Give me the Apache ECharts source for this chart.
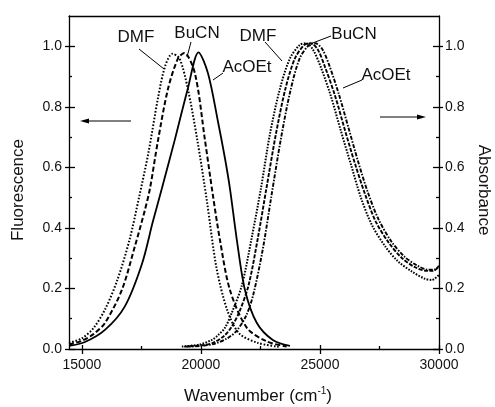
<!DOCTYPE html>
<html><head><meta charset="utf-8">
<script src="https://cdn.jsdelivr.net/npm/echarts@6/dist/echarts.min.js"></script>
<style>html,body{margin:0;padding:0;background:#fff}#c{width:495px;height:407px}</style>
</head><body><div id="c"></div>
<script>
// ---- tick values ----
const xMajorTicks = [15000, 20000, 25000, 30000];
const xMinorTicks = [17500, 22500, 27500];
const yMajorTicks = [0, 0.2, 0.4, 0.6, 0.8, 1.0];
const yMinorTicks = [0.1, 0.3, 0.5, 0.7, 0.9];

// ---- fluorescence (left axis) ----
const fDmfX = [14460, 15000, 15500, 16000, 16500, 17000, 17400, 17800, 18200, 18500, 18800, 19100, 19450, 19850, 20250, 20650, 21100, 21600, 22400, 23300];
const fDmfY = [0.02, 0.035, 0.07, 0.135, 0.23, 0.36, 0.5, 0.65, 0.83, 0.935, 0.975, 0.96, 0.86, 0.69, 0.49, 0.27, 0.13, 0.052, 0.02, 0.007];
const fBuX = [14460, 15000, 15500, 15970, 16680, 17230, 17650, 17860, 18200, 18620, 19040, 19300, 19750, 20170, 20500, 20800, 21220, 21930, 22770, 23600];
const fBuY = [0.015, 0.027, 0.05, 0.086, 0.195, 0.34, 0.46, 0.53, 0.69, 0.86, 0.96, 0.978, 0.91, 0.69, 0.51, 0.36, 0.195, 0.07, 0.025, 0.008];
const fAcX = [14460, 15130, 15970, 16800, 17520, 17980, 18360, 18900, 19450, 19900, 20300, 20720, 21010, 21220, 21510, 21850, 22350, 23020, 23740];
const fAcY = [0.01, 0.023, 0.063, 0.14, 0.28, 0.42, 0.53, 0.69, 0.86, 0.98, 0.91, 0.75, 0.63, 0.53, 0.36, 0.195, 0.086, 0.03, 0.01];

// ---- absorbance (right axis) ----
const aDmfX = [19200, 19950, 20460, 20710, 21010, 21300, 21720, 22140, 22520, 22900, 23320, 23740, 24160, 24410, 24700, 25040, 25460, 25880, 26300, 26720, 27180, 27730, 28270, 28860, 29410, 29700, 30000];
const aDmfY = [0.008, 0.015, 0.03, 0.045, 0.07, 0.12, 0.21, 0.37, 0.53, 0.71, 0.86, 0.96, 1.005, 1.01, 0.99, 0.93, 0.835, 0.72, 0.61, 0.5, 0.41, 0.34, 0.29, 0.256, 0.232, 0.228, 0.245];
const aBuX = [19300, 20000, 20500, 21000, 21300, 21600, 22000, 22400, 22750, 23150, 23550, 23950, 24350, 24600, 24900, 25220, 25640, 26060, 26480, 26900, 27350, 27900, 28450, 29000, 29500, 29750, 30000];
const aBuY = [0.008, 0.012, 0.02, 0.045, 0.075, 0.12, 0.21, 0.37, 0.53, 0.71, 0.86, 0.96, 1.005, 1.01, 0.99, 0.93, 0.835, 0.72, 0.61, 0.51, 0.42, 0.35, 0.3, 0.27, 0.258, 0.258, 0.272];
const aAcX = [19400, 20000, 20600, 21100, 21500, 21900, 22200, 22600, 22950, 23350, 23750, 24150, 24550, 24800, 25100, 25400, 25800, 26200, 26600, 27000, 27450, 28000, 28550, 29100, 29550, 29800, 30000];
const aAcY = [0.008, 0.01, 0.018, 0.035, 0.06, 0.11, 0.18, 0.33, 0.5, 0.69, 0.85, 0.96, 1.005, 1.01, 0.99, 0.935, 0.84, 0.73, 0.62, 0.52, 0.43, 0.355, 0.305, 0.275, 0.262, 0.262, 0.275];

const FONT = '"Liberation Sans", Arial, sans-serif';
const INK = '#000';
const X_MIN = 14460, X_MAX = 30000, Y_MIN = 0, Y_MAX = 1.1;
function pairs(xs, ys) { return xs.map((x, i) => [x, ys[i]]); }

function xAx(extra) {
  return Object.assign({type: 'value', min: X_MIN, max: X_MAX, splitLine: {show: false},
    axisLine: {show: false, onZero: false}, axisLabel: {show: false}, axisTick: {show: false}}, extra);
}
function yAx(extra) {
  return Object.assign({type: 'value', min: Y_MIN, max: Y_MAX, splitLine: {show: false},
    axisLine: {show: false, onZero: false}, axisLabel: {show: false}, axisTick: {show: false}}, extra);
}
const lineS = {color: INK, width: 1.3};
const labS = {color: '#111', fontSize: 14, fontFamily: FONT};

function ser(name, xs, ys, type, width) {
  return {name, type: 'line', xAxisIndex: 0, yAxisIndex: 0, data: pairs(xs, ys), showSymbol: false,
    smooth: 0.3, animation: false, lineStyle: {color: INK, width: width, type: type}};
}

const chart = echarts.init(document.getElementById('c'), null, {renderer: 'canvas'});
chart.setOption({
  animation: false,
  backgroundColor: '#fff',
  grid: {left: 69, right: 56, top: 16, bottom: 58},
  xAxis: [
    xAx({position: 'bottom', axisLine: {show: true, onZero: false, lineStyle: lineS},
      axisLabel: {show: true, customValues: xMajorTicks, margin: 9, formatter: v => String(v), ...labS},
      axisTick: {show: true, customValues: xMajorTicks, inside: false, length: 5, lineStyle: lineS}}),
    xAx({position: 'bottom', axisTick: {show: true, customValues: xMajorTicks, inside: true, length: 4, lineStyle: lineS}}),
    xAx({position: 'bottom', axisTick: {show: true, customValues: xMinorTicks, inside: true, length: 3, lineStyle: lineS}}),
    xAx({position: 'top', axisLine: {show: true, onZero: false, lineStyle: lineS}})
  ],
  yAxis: [
    yAx({position: 'left', axisLine: {show: true, onZero: false, lineStyle: lineS},
      axisLabel: {show: true, customValues: yMajorTicks, margin: 7, formatter: v => v.toFixed(1), ...labS},
      axisTick: {show: true, customValues: yMajorTicks, inside: false, length: 4, lineStyle: lineS}}),
    yAx({position: 'left', axisTick: {show: true, customValues: yMajorTicks, inside: true, length: 6, lineStyle: lineS}}),
    yAx({position: 'left', axisTick: {show: true, customValues: yMinorTicks, inside: true, length: 3, lineStyle: lineS}}),
    yAx({position: 'right', axisLine: {show: true, onZero: false, lineStyle: lineS},
      axisLabel: {show: true, customValues: yMajorTicks, margin: 6, formatter: v => v.toFixed(1), ...labS},
      axisTick: {show: true, customValues: yMajorTicks, inside: false, length: 4, lineStyle: lineS}}),
    yAx({position: 'right', axisTick: {show: true, customValues: yMajorTicks, inside: true, length: 6, lineStyle: lineS}}),
    yAx({position: 'right', axisTick: {show: true, customValues: yMinorTicks, inside: true, length: 3, lineStyle: lineS}})
  ],
  series: [
    ser('Fl DMF', fDmfX, fDmfY, [1.6, 1.8], 2),
    ser('Fl BuCN', fBuX, fBuY, [5, 2.5], 2),
    ser('Fl AcOEt', fAcX, fAcY, 'solid', 1.8),
    ser('Abs DMF', aDmfX, aDmfY, [1.6, 1.4], 2),
    ser('Abs BuCN', aBuX, aBuY, [4, 1.5], 1.9),
    ser('Abs AcOEt', aAcX, aAcY, [4, 1.5, 1.5, 1.5], 1.9)
  ],
  graphic: [
    {type: 'text', x: 18, y: 190, rotation: Math.PI / 2,
      style: {text: 'Fluorescence', font: '17px ' + FONT, fill: '#111', align: 'center', verticalAlign: 'middle'}},
    {type: 'text', x: 484, y: 190, rotation: -Math.PI / 2,
      style: {text: 'Absorbance', font: '17px ' + FONT, fill: '#111', align: 'center', verticalAlign: 'middle'}},
    {type: 'text', x: 258, y: 396,
      style: {text: 'Wavenumber (cm{sup|-1})', font: '17px ' + FONT, fill: '#111', align: 'center', verticalAlign: 'middle',
        rich: {sup: {fontSize: 10, fontFamily: FONT, verticalAlign: 'top', padding: [0, 0, 9, 0]}}}},
    // annotations
    {type: 'text', x: 136, y: 37, style: {text: 'DMF', font: '17px ' + FONT, fill: '#111', align: 'center', verticalAlign: 'middle'}},
    {type: 'line', shape: {x1: 139, y1: 49, x2: 164, y2: 69}, style: {stroke: INK, lineWidth: 1}},
    {type: 'text', x: 197, y: 33, style: {text: 'BuCN', font: '17px ' + FONT, fill: '#111', align: 'center', verticalAlign: 'middle'}},
    {type: 'line', shape: {x1: 191, y1: 42, x2: 187, y2: 57}, style: {stroke: INK, lineWidth: 1}},
    {type: 'text', x: 247, y: 67, style: {text: 'AcOEt', font: '17px ' + FONT, fill: '#111', align: 'center', verticalAlign: 'middle'}},
    {type: 'line', shape: {x1: 223, y1: 73, x2: 213, y2: 80}, style: {stroke: INK, lineWidth: 1}},
    {type: 'text', x: 258, y: 36, style: {text: 'DMF', font: '17px ' + FONT, fill: '#111', align: 'center', verticalAlign: 'middle'}},
    {type: 'line', shape: {x1: 265, y1: 42, x2: 282, y2: 61}, style: {stroke: INK, lineWidth: 1}},
    {type: 'text', x: 354, y: 34, style: {text: 'BuCN', font: '17px ' + FONT, fill: '#111', align: 'center', verticalAlign: 'middle'}},
    {type: 'line', shape: {x1: 331, y1: 36, x2: 310, y2: 44}, style: {stroke: INK, lineWidth: 1}},
    {type: 'text', x: 386, y: 75, style: {text: 'AcOEt', font: '17px ' + FONT, fill: '#111', align: 'center', verticalAlign: 'middle'}},
    {type: 'line', shape: {x1: 362, y1: 80, x2: 343, y2: 88}, style: {stroke: INK, lineWidth: 1}},
    // arrows
    {type: 'line', shape: {x1: 131, y1: 121, x2: 86, y2: 121}, style: {stroke: INK, lineWidth: 1}},
    {type: 'polygon', shape: {points: [[80, 121], [89, 118.5], [89, 123.5]]}, style: {fill: INK}},
    {type: 'line', shape: {x1: 380, y1: 117, x2: 420, y2: 117}, style: {stroke: INK, lineWidth: 1}},
    {type: 'polygon', shape: {points: [[426, 117], [417, 114.5], [417, 119.5]]}, style: {fill: INK}}
  ]
});
</script></body></html>
